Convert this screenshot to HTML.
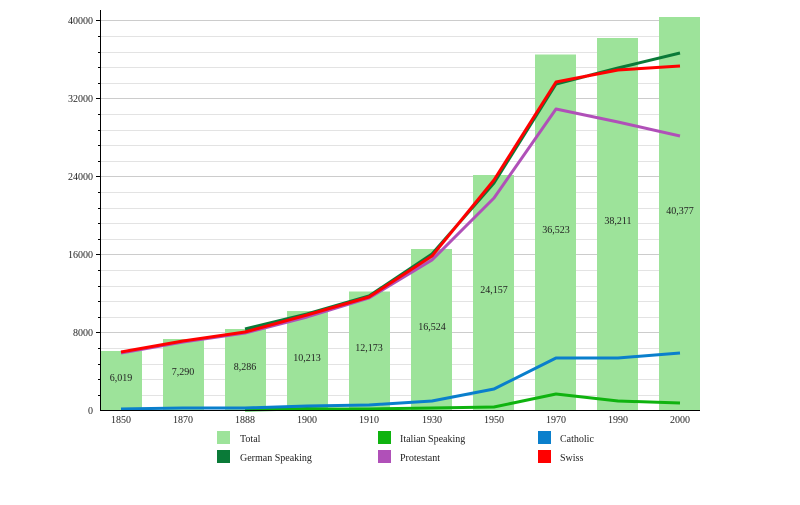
<!DOCTYPE html>
<html><head><style>
body{margin:0;background:#fff}
svg text{font-family:"Liberation Serif",serif;font-size:10px;fill:#222}
</style></head><body>
<svg width="800" height="500" xmlns="http://www.w3.org/2000/svg">
<g stroke="#e3e3e3" stroke-width="1">
<line x1="100" x2="700" y1="36.5" y2="36.5"/><line x1="100" x2="700" y1="52.5" y2="52.5"/><line x1="100" x2="700" y1="67.5" y2="67.5"/><line x1="100" x2="700" y1="83.5" y2="83.5"/>
<line x1="100" x2="700" y1="114.5" y2="114.5"/><line x1="100" x2="700" y1="130.5" y2="130.5"/><line x1="100" x2="700" y1="145.5" y2="145.5"/><line x1="100" x2="700" y1="161.5" y2="161.5"/>
<line x1="100" x2="700" y1="192.5" y2="192.5"/><line x1="100" x2="700" y1="208.5" y2="208.5"/><line x1="100" x2="700" y1="223.5" y2="223.5"/><line x1="100" x2="700" y1="239.5" y2="239.5"/>
<line x1="100" x2="700" y1="270.5" y2="270.5"/><line x1="100" x2="700" y1="286.5" y2="286.5"/><line x1="100" x2="700" y1="301.5" y2="301.5"/><line x1="100" x2="700" y1="317.5" y2="317.5"/>
<line x1="100" x2="700" y1="348.5" y2="348.5"/><line x1="100" x2="700" y1="364.5" y2="364.5"/><line x1="100" x2="700" y1="379.5" y2="379.5"/><line x1="100" x2="700" y1="395.5" y2="395.5"/>
</g>
<g stroke="#cccccc" stroke-width="1">
<line x1="100" x2="700" y1="20.5" y2="20.5"/><line x1="100" x2="700" y1="98.5" y2="98.5"/><line x1="100" x2="700" y1="176.5" y2="176.5"/><line x1="100" x2="700" y1="254.5" y2="254.5"/><line x1="100" x2="700" y1="332.5" y2="332.5"/>
</g>
<g fill="#9de39a">
<rect x="101" y="351" width="41" height="59"/>
<rect x="163" y="339" width="41" height="71"/>
<rect x="225" y="329" width="41" height="81"/>
<rect x="287" y="311" width="41" height="99"/>
<rect x="349" y="291.5" width="41" height="118.5"/>
<rect x="411" y="249" width="41" height="161"/>
<rect x="473" y="175" width="41" height="235"/>
<rect x="535" y="54.5" width="41" height="355.5"/>
<rect x="597" y="38" width="41" height="372"/>
<rect x="659" y="17" width="41" height="393"/>
</g>
<g text-anchor="middle">
<text x="121" y="381">6,019</text><text x="183" y="375">7,290</text><text x="245" y="370">8,286</text><text x="307" y="361">10,213</text><text x="369" y="351">12,173</text><text x="432" y="330">16,524</text><text x="494" y="293">24,157</text><text x="556" y="233">36,523</text><text x="618" y="224">38,211</text><text x="680" y="214">40,377</text>
</g>
<g fill="none" stroke-width="3" stroke-linejoin="round">
<polyline stroke="#0fb30f" points="245,410 307,409 369,409 432,408 494,407 556,394 618,401 680,403"/>
<polyline stroke="#0a7fcc" points="121,409 183,408 245,408 307,406 369,405 432,401 494,389 556,358 618,358 680,353"/>
<polyline stroke="#0a7a38" points="245,329 307,314 369,296 432,254 494,183 556,84 618,68 680,53"/>
<polyline stroke="#b050b8" points="121,353 183,342 245,333 307,317 369,298 432,260 494,198 556,109 618,122 680,136"/>
<polyline stroke="#ff0000" points="121,352 183,341 245,332 307,315 369,297 432,256 494,180 556,82 618,70 680,66"/>
</g>
<line x1="100.5" x2="100.5" y1="10" y2="410" stroke="#000"/>
<line x1="100" x2="700" y1="410.5" y2="410.5" stroke="#000"/>
<g stroke="#000">
<line x1="96" x2="100" y1="20.5" y2="20.5"/><line x1="96" x2="100" y1="98.5" y2="98.5"/><line x1="96" x2="100" y1="176.5" y2="176.5"/><line x1="96" x2="100" y1="254.5" y2="254.5"/><line x1="96" x2="100" y1="332.5" y2="332.5"/>
<line x1="98" x2="100" y1="36.5" y2="36.5"/><line x1="98" x2="100" y1="52.5" y2="52.5"/><line x1="98" x2="100" y1="67.5" y2="67.5"/><line x1="98" x2="100" y1="83.5" y2="83.5"/>
<line x1="98" x2="100" y1="114.5" y2="114.5"/><line x1="98" x2="100" y1="130.5" y2="130.5"/><line x1="98" x2="100" y1="145.5" y2="145.5"/><line x1="98" x2="100" y1="161.5" y2="161.5"/>
<line x1="98" x2="100" y1="192.5" y2="192.5"/><line x1="98" x2="100" y1="208.5" y2="208.5"/><line x1="98" x2="100" y1="223.5" y2="223.5"/><line x1="98" x2="100" y1="239.5" y2="239.5"/>
<line x1="98" x2="100" y1="270.5" y2="270.5"/><line x1="98" x2="100" y1="286.5" y2="286.5"/><line x1="98" x2="100" y1="301.5" y2="301.5"/><line x1="98" x2="100" y1="317.5" y2="317.5"/>
<line x1="98" x2="100" y1="348.5" y2="348.5"/><line x1="98" x2="100" y1="364.5" y2="364.5"/><line x1="98" x2="100" y1="379.5" y2="379.5"/><line x1="98" x2="100" y1="395.5" y2="395.5"/>
</g>
<g text-anchor="end" font-size="10">
<text x="93" y="24">40000</text><text x="93" y="102">32000</text><text x="93" y="180">24000</text><text x="93" y="258">16000</text><text x="93" y="336">8000</text><text x="93" y="414">0</text>
</g>
<g text-anchor="middle">
<text x="121" y="423">1850</text><text x="183" y="423">1870</text><text x="245" y="423">1888</text><text x="307" y="423">1900</text><text x="369" y="423">1910</text><text x="432" y="423">1930</text><text x="494" y="423">1950</text><text x="556" y="423">1970</text><text x="618" y="423">1990</text><text x="680" y="423">2000</text>
</g>
<rect x="217" y="431" width="13" height="13" fill="#9de39a"/><text x="240" y="442">Total</text>
<rect x="217" y="450" width="13" height="13" fill="#0a7a38"/><text x="240" y="461">German Speaking</text>
<rect x="378" y="431" width="13" height="13" fill="#0fb30f"/><text x="400" y="442">Italian Speaking</text>
<rect x="378" y="450" width="13" height="13" fill="#b050b8"/><text x="400" y="461">Protestant</text>
<rect x="538" y="431" width="13" height="13" fill="#0a7fcc"/><text x="560" y="442">Catholic</text>
<rect x="538" y="450" width="13" height="13" fill="#ff0000"/><text x="560" y="461">Swiss</text>
</svg>
</body></html>
